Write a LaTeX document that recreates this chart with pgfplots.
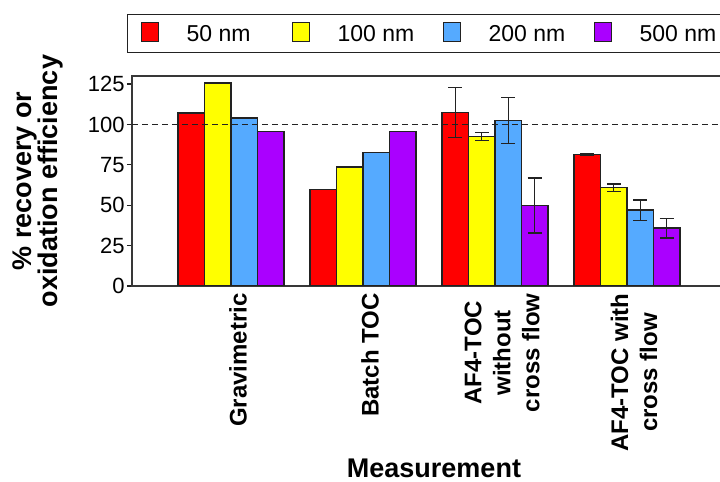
\documentclass[border=0pt]{standalone}
\usepackage{pgfplots}
\pgfplotsset{compat=1.18}
\usepackage{fontspec}
\setmainfont{Liberation Sans}

\definecolor{cRed}{HTML}{FF0000}
\definecolor{cYel}{HTML}{FFFF00}
\definecolor{cBlu}{HTML}{55AAFF}
\definecolor{cPur}{HTML}{AA00FF}
\definecolor{edge}{HTML}{222222}

\pgfplotsset{
  mybar/.style={ybar, bar width=0.2, draw=edge, line width=0.75pt},
  myerr/.style={forget plot, draw=none, mark=none,
    error bars/.cd, y dir=both, y explicit,
    error bar style={line width=0.6pt, draw=edge, solid},
    error mark options={rotate=90, mark size=3.5pt, line width=0.6pt, draw=edge, solid}},
}

\begin{document}
\begin{tikzpicture}
\begin{axis}[
  scale only axis, width=297pt, height=105pt,
  xmin=-0.75, xmax=3.75, ymin=0, ymax=130,
  xtick={0,1,2,3},
  xticklabels={Gravimetric, Batch TOC, {AF4-TOC\\without\\cross flow}, {AF4-TOC with\\cross flow}},
  xtick style={draw=none},
  xticklabel style={rotate=90, anchor=east, align=center, inner sep=0pt, yshift=-3.5pt, xshift=-1pt,
    font=\fontsize{12}{14.5}\selectfont\bfseries},
  ytick={0,25,50,75,100,125},
  ytick pos=left, tick align=outside, major tick length=2.5pt,
  ytick style={draw=edge, line width=0.6pt},
  yticklabel style={font=\fontsize{11}{13}\selectfont, inner sep=0pt, xshift=-1pt},
  /pgf/number format/assume math mode=true,
  axis line style={draw=edge!90, line width=0.75pt},
  ylabel={\% recovery or\\oxidation efficiency},
  ylabel style={font=\fontsize{13.5}{13}\selectfont\bfseries, align=center, inner sep=0pt,
    at={(axis description cs:-0.1145,0.5)}, anchor=south, rotate=0},
  xlabel={Measurement},
  xlabel style={font=\fontsize{13.5}{16}\selectfont\bfseries, inner sep=0pt,
    at={(axis description cs:0.5,0)}, anchor=base, yshift=-96pt, xshift=2.5pt},
  legend columns=4,
  legend cell align=left,
  legend image code/.code={\draw[#1, line width=0.5pt] (0pt,-3.4pt) rectangle (8.5pt,6.1pt);},
  legend style={at={(axis description cs:0,1)}, anchor=south west, xshift=-2.5pt, yshift=11.5pt,
    draw=edge, line width=0.6pt, inner xsep=6.5pt, inner ysep=4pt,
    font=\fontsize{11.5}{13}\selectfont, nodes={inner sep=0pt}},
]
\addplot[mybar, bar shift=-0.3, fill=cRed] coordinates {(0,107.0) (1,59.7) (2,107.4) (3,81.3)};
\addlegendentry{\makebox[66.5pt][l]{\hspace{14pt}50 nm}}
\addplot[mybar, bar shift=-0.1, fill=cYel] coordinates {(0,125.7) (1,73.7) (2,92.6) (3,60.9)};
\addlegendentry{\makebox[66.5pt][l]{\hspace{14pt}100 nm}}
\addplot[mybar, bar shift=0.1, fill=cBlu] coordinates {(0,104.0) (1,82.7) (2,102.5) (3,46.9)};
\addlegendentry{\makebox[66.5pt][l]{\hspace{14pt}200 nm}}
\addplot[mybar, bar shift=0.3, fill=cPur] coordinates {(0,95.7) (1,95.7) (2,49.8) (3,35.8)};
\addlegendentry{\makebox[66.5pt][l]{\hspace{14pt}500 nm}}

\addplot[myerr] coordinates {(1.7,107.4) +- (0,15.3) (2.7,81.3) +- (0,0.5)};
\addplot[myerr] coordinates {(1.9,92.6) +- (0,2.5) (2.9,60.9) +- (0,2.3)};
\addplot[myerr] coordinates {(2.1,102.5) +- (0,14.4) (3.1,46.9) +- (0,6.3)};
\addplot[myerr] coordinates {(2.3,49.8) +- (0,17.0) (3.3,35.8) +- (0,6.1)};

\addplot[forget plot, draw=edge, line width=0.5pt, dash pattern=on 3pt off 2pt] coordinates {(-0.75,100) (3.75,100)};
\end{axis}
\pgfresetboundingbox
\useasboundingbox (-66pt,-98pt) rectangle (294pt,143pt);
\end{tikzpicture}
\end{document}
